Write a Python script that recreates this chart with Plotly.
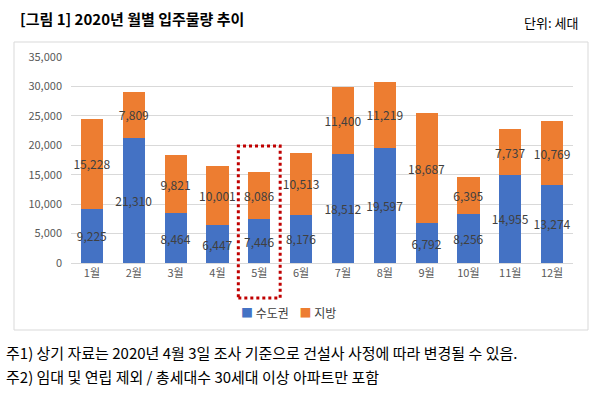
import plotly.graph_objects as go

months = ["1월", "2월", "3월", "4월", "5월", "6월", "7월", "8월", "9월", "10월", "11월", "12월"]
capital = [9225, 21310, 8464, 6447, 7446, 8176, 18512, 19597, 6792, 8256, 14955, 13274]
regional = [15228, 7809, 9821, 10001, 8086, 10513, 11400, 11219, 18687, 6395, 7737, 10769]
series_names = ["수도권", "지방"]
series_colors = ["#4472C4", "#ED7D31"]
y_ticks = [0, 5000, 10000, 15000, 20000, 25000, 30000, 35000]

FONT = "Noto Sans CJK KR"
L, R, T, B = 71, 27, 57, 130
W, H = 600, 393
pw = W - L - R
ph = H - T - B

def px_x(p):
    return (p - L) / pw

def px_y(p):
    return (H - B - p) / ph

fig = go.Figure()
for name, vals, color in zip(series_names, [capital, regional], series_colors):
    fig.add_trace(go.Bar(
        x=months, y=vals, name=name, marker=dict(color=color, line=dict(width=0)),
        text=[f"{v:,}" for v in vals], textposition="inside", insidetextanchor="middle",
        constraintext="none", textangle=0, cliponaxis=False,
        textfont=dict(family=FONT, size=12, color="#404040"),
        hoverinfo="skip", showlegend=False,
    ))

fig.update_layout(
    width=W, height=H, barmode="stack", bargap=0.47,
    margin=dict(l=L, r=R, t=T, b=B, autoexpand=False),
    paper_bgcolor="white", plot_bgcolor="white",
    font=dict(family=FONT, color="#595959", size=11),
    xaxis=dict(showgrid=False, showline=True, linecolor="#D9D9D9", ticks="",
               tickfont=dict(size=11, color="#595959"), range=[-0.5, 11.5], fixedrange=True),
    yaxis=dict(range=[0, 35000], tickvals=y_ticks, tickformat=",", showgrid=True,
               gridcolor="#D9D9D9", zeroline=False, showline=False, ticks="",
               ticklabelstandoff=8, tickfont=dict(size=11, color="#595959")),
    showlegend=False,
)

shapes = [
    dict(type="rect", xref="paper", yref="paper", x0=px_x(14), x1=px_x(588), y0=px_y(330), y1=px_y(42),
         line=dict(color="#D9D9D9", width=1), layer="below"),
    dict(type="rect", xref="x", yref="paper", x0=3.5, x1=4.5, y0=px_y(298), y1=px_y(146),
         line=dict(color="#C00000", width=3, dash="dot")),
]
fig.update_layout(shapes=shapes)

# legend drawn as text
legend_text = "&nbsp;&nbsp;&nbsp;&nbsp;".join(
    f"<span style='color:{c}'>■</span>&nbsp;{n}" for n, c in zip(series_names, series_colors))
fig.add_annotation(text=legend_text, xref="paper", yref="paper", x=px_x(288), y=px_y(312),
                   xanchor="center", yanchor="middle", showarrow=False,
                   font=dict(family=FONT, size=12, color="#404040"))

fig.add_annotation(text="<b>[그림 1] 2020년 월별 입주물량 추이</b>", xref="paper", yref="paper",
                   x=px_x(18), y=px_y(18), xanchor="left", yanchor="middle", showarrow=False,
                   font=dict(family=FONT, size=15, color="#000000"))
fig.add_annotation(text="단위: 세대", xref="paper", yref="paper",
                   x=px_x(580), y=px_y(22), xanchor="right", yanchor="middle", showarrow=False,
                   font=dict(family=FONT, size=13, color="#000000"))
fig.add_annotation(text="주1) 상기 자료는 2020년 4월 3일 조사 기준으로 건설사 사정에 따라 변경될 수 있음.",
                   xref="paper", yref="paper", x=px_x(4), y=px_y(352), xanchor="left", yanchor="middle",
                   showarrow=False, font=dict(family=FONT, size=15, color="#000000"))
fig.add_annotation(text="주2) 임대 및 연립 제외 / 총세대수 30세대 이상 아파트만 포함",
                   xref="paper", yref="paper", x=px_x(4), y=px_y(376), xanchor="left", yanchor="middle",
                   showarrow=False, font=dict(family=FONT, size=15, color="#000000"))

fig.write_html("out.html", config={"displayModeBar": False},
               post_script="document.body.style.margin='0';")
